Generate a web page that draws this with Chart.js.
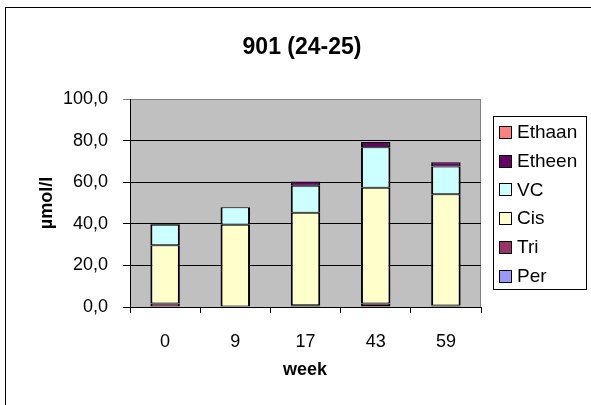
<!DOCTYPE html>
<html>
<head>
<meta charset="utf-8">
<script src="https://cdn.jsdelivr.net/npm/chart.js@4.4.0/dist/chart.umd.min.js"></script>
<style>
html,body{margin:0;padding:0;background:#fff;}
#wrap{position:relative;width:591px;height:405px;}
</style>
</head>
<body>
<div id="wrap"><canvas id="c" width="591" height="405"></canvas></div>
<script>
const categories = ['0', '9', '17', '43', '59'];
const per    = [0.3, 0.0, 0.3, 0.5, 0.3];
const tri    = [1.4, 0.0, 0.5, 1.2, 0.4];
const cis    = [28.0, 39.5, 44.5, 55.6, 53.5];
const vc     = [9.8, 8.4, 13.0, 19.5, 13.4];
const etheen = [0.5, 0.0, 2.0, 2.5, 2.0];
const ethaan = [0.0, 0.0, 0.0, 0.0, 0.0];
const seriesNames = ['Per', 'Tri', 'Cis', 'VC', 'Etheen', 'Ethaan'];
const seriesColors = ['#9999FF', '#993366', '#FFFFCC', '#CCFFFF', '#660066', '#FF8080'];
const chartTitle = '901 (24-25)';
const xTitle = 'week';
const yTitle = 'µmol/l';

const seriesData = [per, tri, cis, vc, etheen, ethaan];
const FONT = 'Arial, "Liberation Sans", sans-serif';

const decor = {
  id: 'decor',
  beforeDraw(chart) {
    const {ctx, chartArea: a} = chart;
    ctx.save();
    ctx.fillStyle = '#C0C0C0';
    ctx.fillRect(a.left, a.top, a.right - a.left, a.bottom - a.top);
    ctx.strokeStyle = '#808080';
    ctx.lineWidth = 1;
    ctx.beginPath();
    ctx.moveTo(a.left, a.top + 0.5);
    ctx.lineTo(a.right - 0.5, a.top + 0.5);
    ctx.lineTo(a.right - 0.5, a.bottom);
    ctx.stroke();
    ctx.strokeStyle = '#000';
    ctx.strokeRect(5.5, 7.5, 600, 420);
    ctx.restore();
  },
  afterDraw(chart) {
    const {ctx} = chart;
    ctx.save();
    ctx.fillStyle = '#000';
    ctx.textAlign = 'center';
    ctx.textBaseline = 'middle';
    ctx.font = 'bold 23px ' + FONT;
    ctx.fillText(chartTitle, 302, 48);
    ctx.font = 'bold 18px ' + FONT;
    ctx.fillText(xTitle, 305, 370);
    ctx.save();
    ctx.translate(47, 203);
    ctx.rotate(-Math.PI / 2);
    ctx.fillText(yTitle, 0, 0);
    ctx.restore();
    const lx = 493.5, ly = 116.5, lw = 93, lh = 173;
    ctx.fillStyle = '#fff';
    ctx.fillRect(lx, ly, lw, lh);
    ctx.strokeStyle = '#000';
    ctx.lineWidth = 1;
    ctx.strokeRect(lx, ly, lw, lh);
    ctx.font = '19px ' + FONT;
    ctx.textAlign = 'left';
    const ds = chart.data.datasets;
    for (let k = 0; k < ds.length; k++) {
      const d = ds[ds.length - 1 - k];
      const cy = 132 + k * 28.7;
      ctx.fillStyle = d.backgroundColor;
      ctx.fillRect(499.5, Math.round(cy - 6) + 0.5, 12, 12);
      ctx.strokeRect(499.5, Math.round(cy - 6) + 0.5, 12, 12);
      ctx.fillStyle = '#000';
      ctx.fillText(d.label, 517, cy + 1);
    }
    ctx.restore();
  }
};

new Chart(document.getElementById('c'), {
  type: 'bar',
  data: {
    labels: categories,
    datasets: seriesNames.map((n, i) => ({
      label: n,
      data: seriesData[i],
      backgroundColor: seriesColors[i],
      borderColor: '#000',
      borderWidth: {left: 2, right: 2, top: 1, bottom: 1},
      borderSkipped: false,
      categoryPercentage: 1.0,
      barPercentage: 0.42
    }))
  },
  options: {
    responsive: false,
    animation: false,
    devicePixelRatio: 1,
    layout: {padding: {left: 5, top: 99, right: 110, bottom: 0}},
    plugins: {legend: {display: false}, title: {display: false}, tooltip: {enabled: false}},
    scales: {
      x: {
        stacked: true,
        afterFit: s => { s.height = 98; },
        grid: {display: true, drawOnChartArea: false, drawTicks: true, tickLength: 6, color: '#000', offset: true},
        border: {display: true, color: '#000', width: 1},
        ticks: {color: '#000', font: {family: FONT, size: 18}, padding: 18, maxRotation: 0}
      },
      y: {
        stacked: true,
        min: 0, max: 100,
        afterFit: s => { s.width = 125; },
        grid: {display: true, drawTicks: true, tickLength: 7,
               color: c => (c.tick && c.tick.value === 100) ? '#808080' : '#000'},
        border: {display: true, color: '#000', width: 1},
        ticks: {stepSize: 20, color: '#000', font: {family: FONT, size: 18}, padding: 15,
                callback: v => v.toFixed(1).replace('.', ',')}
      }
    }
  },
  plugins: [decor]
});
</script>
</body>
</html>
